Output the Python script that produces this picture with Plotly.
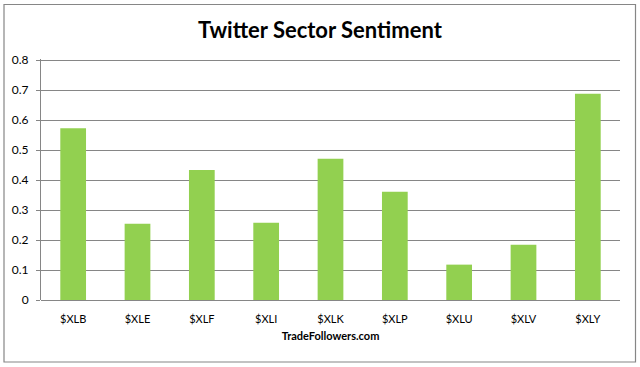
import plotly.graph_objects as go

categories = ["$XLB", "$XLE", "$XLF", "$XLI", "$XLK", "$XLP", "$XLU", "$XLV", "$XLY"]
sentiment = [0.573, 0.254, 0.434, 0.258, 0.471, 0.361, 0.118, 0.184, 0.688]
y_ticks = [0, 0.1, 0.2, 0.3, 0.4, 0.5, 0.6, 0.7, 0.8]
y_tick_labels = ["0", "0.1", "0.2", "0.3", "0.4", "0.5", "0.6", "0.7", "0.8"]

W, H = 640, 367
ml, mr, mt, mb = 41, 20, 59, 67
pw, ph = W - ml - mr, H - mt - mb

fig = go.Figure(go.Bar(x=categories, y=sentiment, marker_color="#92D050",
                       marker_line_width=0))

def px_to_paper_x(px):
    return (px - ml) / pw

def px_to_paper_y(py):
    return (H - mb - py) / ph

fig.update_layout(
    width=W, height=H,
    margin=dict(l=ml, r=mr, t=mt, b=mb, autoexpand=False),
    paper_bgcolor="white", plot_bgcolor="white",
    font=dict(family="Lato, Carlito, Arial", color="#000000", size=11),
    bargap=0.6,
    showlegend=False,
    title=dict(text="<b>Twitter Sector Sentiment</b>", x=0.5, xref="container",
               xanchor="center", y=1 - 30 / H, yanchor="middle", automargin=False,
               font=dict(size=22, family="Lato, Carlito, Arial", color="#000000")),
    xaxis=dict(showgrid=False, showline=False, ticks="", zeroline=False,
               automargin=False, ticklabelstandoff=11,
               tickfont=dict(size=11, color="#000000"),
               title=dict(text="<b>TradeFollowers.com</b>", standoff=8,
                          font=dict(size=11, color="#000000"))),
    yaxis=dict(range=[0, 0.804], tickvals=y_ticks, ticktext=y_tick_labels,
               automargin=False, ticklabelstandoff=5,
               showgrid=True, gridcolor="#868686", gridwidth=1,
               zeroline=True, zerolinecolor="#868686", zerolinewidth=1,
               showline=True, linecolor="#868686", linewidth=1,
               ticks="outside", ticklen=4, tickcolor="#868686",
               tickfont=dict(size=12, color="#000000")),
    shapes=[dict(type="rect", xref="paper", yref="paper",
                 x0=px_to_paper_x(4), x1=px_to_paper_x(635.5),
                 y0=px_to_paper_y(362), y1=px_to_paper_y(4.5),
                 line=dict(color="#868686", width=1.2), fillcolor="rgba(0,0,0,0)",
                 layer="below")],
)

fig.write_html("out.html", config={"displayModeBar": False},
               post_script="document.body.style.margin='0';document.body.style.padding='0';")
